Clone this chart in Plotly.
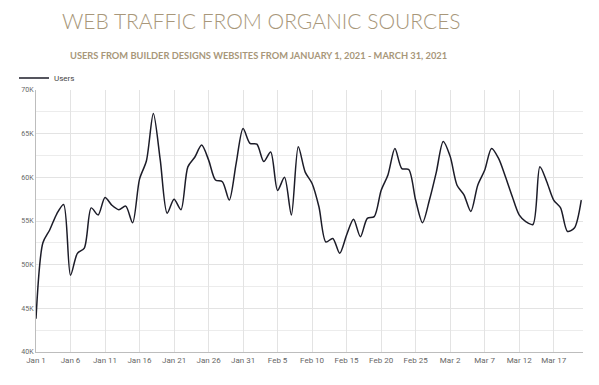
import plotly.graph_objects as go
import pandas as pd

dates = pd.date_range("2021-01-01", "2021-03-21", freq="D").strftime("%Y-%m-%d").tolist()
users = [
    43800, 52500, 54000, 55800, 56900, 48800, 51300, 51900, 56500, 55700,
    57700, 56800, 56300, 56700, 54800, 59800, 61900, 67300, 62000, 55900,
    57500, 56300, 61200, 62300, 63700, 62000, 59700, 59500, 57400, 61600,
    65600, 63900, 63800, 61800, 62900, 58500, 60000, 55700, 63500, 60600,
    59300, 56600, 52600, 53000, 51300, 53400, 55200, 53200, 55300, 55500,
    58500, 60300, 63300, 61000, 60900, 57400, 54800, 57400, 60600, 64100,
    62400, 59100, 58000, 56100, 59100, 60800, 63300, 62200, 60100, 57800,
    55700, 54900, 54600, 61200, 59500, 57400, 56500, 53800, 54200, 57400,
]
y_tickvals = [40000, 45000, 50000, 55000, 60000, 65000, 70000]
y_ticktext = ["40K", "45K", "50K", "55K", "60K", "65K", "70K"]

title_text = "WEB TRAFFIC FROM ORGANIC SOURCES"
subtitle_text = "USERS FROM BUILDER DESIGNS WEBSITES FROM JANUARY 1, 2021 - MARCH 31, 2021"

tan = "#a8977a"
OFF = 8  # page body margin in the browser
W, H = 599 - OFF, 385 - OFF
L, T = 36 - OFF, 90 - OFF
R = W - (583 - OFF)
B = H - (352 - OFF)
pw = W - L - R

fig = go.Figure()
fig.add_trace(go.Scatter(
    x=dates, y=users, mode="lines", name="Users",
    line=dict(color="#1c1c28", width=1.5, shape="spline", smoothing=0.8),
))

fig.update_layout(
    width=W, height=H,
    margin=dict(l=L, r=R, t=T, b=B, autoexpand=False),
    paper_bgcolor="white", plot_bgcolor="white",
    showlegend=True,
    legend=dict(x=(14 - OFF) / W, y=1 - (78 - OFF) / H, xref="container", yref="container",
                xanchor="left", yanchor="middle", orientation="h",
                font=dict(family="Roboto", size=8, color="#444"),
                bgcolor="rgba(0,0,0,0)"),
    annotations=[
        dict(text=title_text, x=(261 - 36) / pw, y=1, yshift=90 - 20,
             xref="paper", yref="paper", yanchor="middle", showarrow=False,
             font=dict(family="Lato", size=21, color=tan, weight=300)),
        dict(text="<b>" + subtitle_text + "</b>", x=(258 - 36) / pw, y=1, yshift=90 - 55,
             xref="paper", yref="paper", yanchor="middle", showarrow=False,
             font=dict(family="Lato", size=9.3, color=tan)),
    ],
)

fig.update_xaxes(
    type="date",
    range=["2021-01-01", "2021-03-21 06:00"],
    tick0="2021-01-01", dtick=5 * 86400000, tickformat="%b %-d",
    showgrid=True, gridcolor="#e3e3e3", gridwidth=1,
    showline=True, linecolor="#bdbdbd", linewidth=1,
    ticks="", tickfont=dict(family="Roboto", size=8, color="#666"),
    zeroline=False, automargin=False,
)
fig.update_yaxes(
    range=[40000, 70000],
    tickvals=y_tickvals, ticktext=y_ticktext,
    showgrid=True, gridcolor="#e3e3e3", gridwidth=1,
    minor=dict(dtick=2500, tick0=40000, showgrid=True, gridcolor="#ececec", gridwidth=1),
    showline=True, linecolor="#bdbdbd", linewidth=1,
    ticks="", tickfont=dict(family="Roboto", size=7, color="#666"),
    zeroline=False, automargin=False,
)

fig.write_html("out.html")
